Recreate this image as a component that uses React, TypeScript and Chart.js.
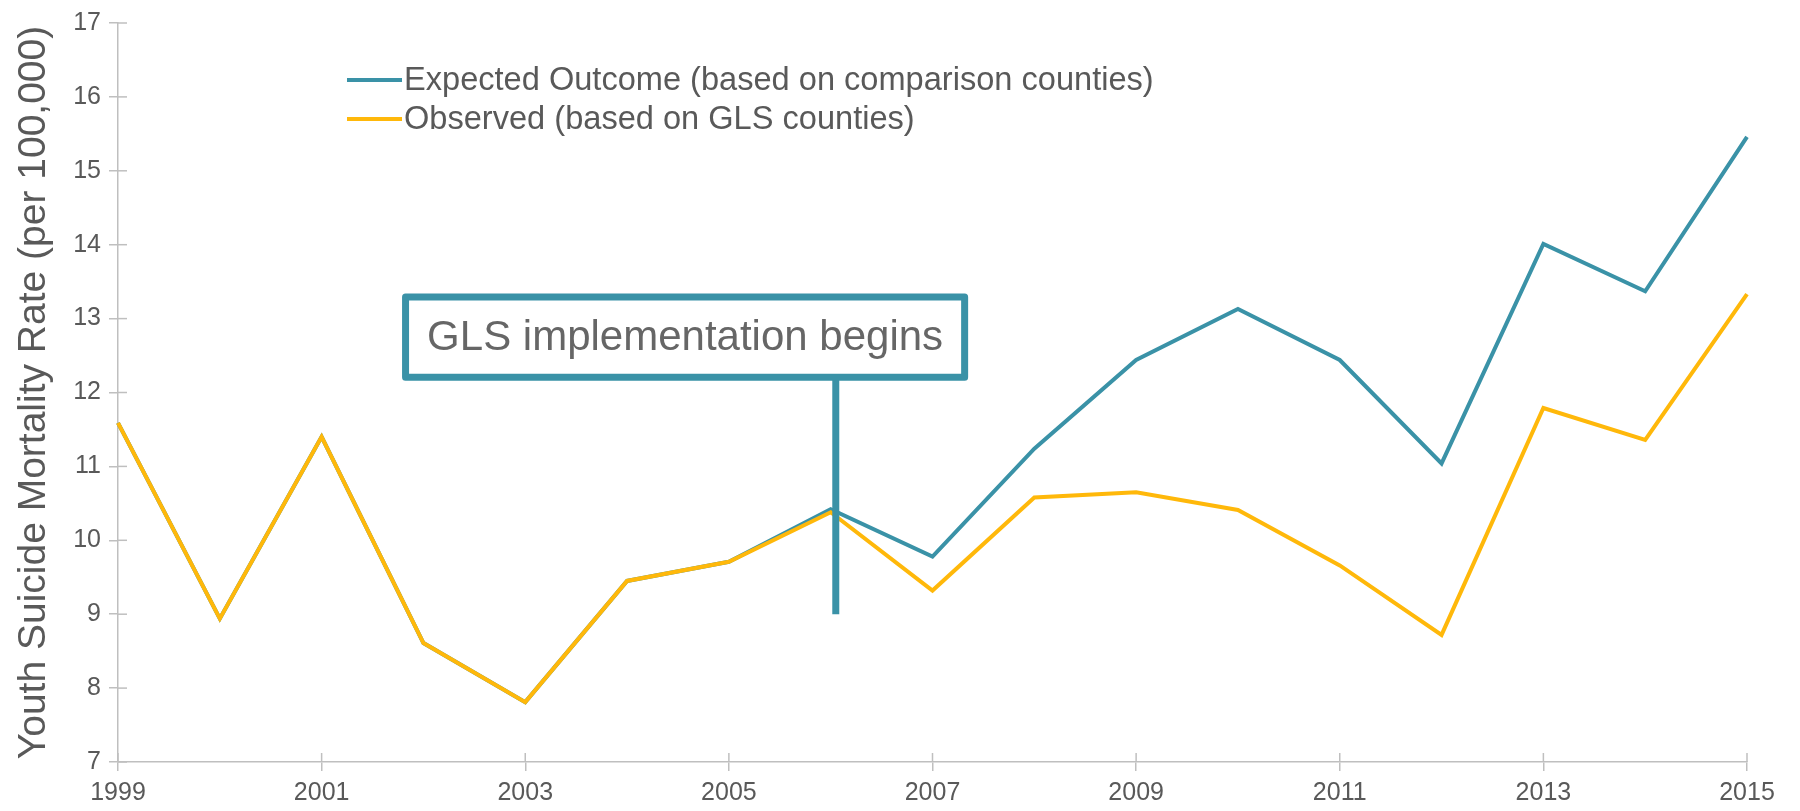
import React, { useEffect, useRef } from "react";
import { Chart, registerables } from "chart.js";

Chart.register(...registerables);

const YEARS = ["1999", "2000", "2001", "2002", "2003", "2004", "2005", "2006", "2007", "2008", "2009", "2010", "2011", "2012", "2013", "2014", "2015"];
const EXPECTED = [11.59, 8.94, 11.4, 8.61, 7.81, 9.45, 9.71, 10.42, 9.78, 11.24, 12.44, 13.13, 12.44, 11.04, 14.01, 13.37, 15.46];
const OBSERVED = [11.59, 8.94, 11.4, 8.61, 7.81, 9.45, 9.71, 10.38, 9.32, 10.58, 10.65, 10.41, 9.66, 8.72, 11.79, 11.36, 13.33];
const SERIES_LABELS = ["Expected Outcome (based on comparison counties)", "Observed (based on GLS counties)"];
const SERIES_COLORS = ["#3A92A7", "#FFB80A"];
const Y_MIN = 7;
const Y_MAX = 17;
const Y_TITLE = "Youth Suicide Mortality Rate (per 100,000)";
const ANNOTATION_TEXT = "GLS implementation begins";
const MARKER_INDEX = 7.05;
const MARKER_BOTTOM = 9;
const BOX_X = [2.79, 8.35];
const BOX_Y = [12.16, 13.34];

const FONT = "'Liberation Sans', Arial, sans-serif";
const TEXT_COLOR = "#595959";
const AXIS_COLOR = "#BFBFBF";
const TEAL = "#3A92A7";

const decorPlugin = {
  id: "decor",
  beforeDatasetsDraw(chart: any) {
    const { ctx, scales } = chart;
    const x = scales.x;
    const y = scales.y;
    ctx.save();
    ctx.strokeStyle = AXIS_COLOR;
    ctx.lineWidth = 1.5;
    for (let v = Y_MIN; v <= Y_MAX; v++) {
      const py = y.getPixelForValue(v);
      ctx.beginPath();
      ctx.moveTo(x.left, py);
      ctx.lineTo(x.left + 9, py);
      ctx.stroke();
    }
    for (let i = 0; i < YEARS.length; i += 2) {
      const px = x.getPixelForValue(i);
      ctx.beginPath();
      ctx.moveTo(px, y.bottom);
      ctx.lineTo(px, y.bottom - 9);
      ctx.stroke();
    }
    ctx.restore();
  },
  afterDatasetsDraw(chart: any) {
    const { ctx, scales } = chart;
    const x = scales.x;
    const y = scales.y;
    ctx.save();
    const bw = 7;
    const left = x.getPixelForValue(BOX_X[0]) + bw / 2;
    const right = x.getPixelForValue(BOX_X[1]) - bw / 2;
    const top = y.getPixelForValue(BOX_Y[1]) + bw / 2;
    const bottom = y.getPixelForValue(BOX_Y[0]) - bw / 2;
    const mx = x.getPixelForValue(MARKER_INDEX);
    ctx.strokeStyle = TEAL;
    ctx.lineWidth = 7;
    ctx.lineCap = "butt";
    ctx.beginPath();
    ctx.moveTo(mx, bottom);
    ctx.lineTo(mx, y.getPixelForValue(MARKER_BOTTOM));
    ctx.stroke();
    ctx.fillStyle = "#FFFFFF";
    ctx.lineJoin = "round";
    ctx.beginPath();
    ctx.rect(left, top, right - left, bottom - top);
    ctx.fill();
    ctx.stroke();
    ctx.fillStyle = "#666666";
    ctx.font = `42px ${FONT}`;
    ctx.textAlign = "center";
    ctx.textBaseline = "middle";
    ctx.fillText(ANNOTATION_TEXT, (left + right) / 2, (top + bottom) / 2 + 1);
    ctx.restore();
  },
  afterDraw(chart: any) {
    const { ctx } = chart;
    ctx.save();
    ctx.font = `100px ${FONT}`;
    const w = ctx.measureText(SERIES_LABELS[0]).width;
    const size = Math.min(34, (100 * 750) / w);
    ctx.font = `${size}px ${FONT}`;
    ctx.textAlign = "left";
    ctx.textBaseline = "middle";
    const rows = [80, 119];
    chart.data.datasets.forEach((ds: any, i: number) => {
      const yy = rows[i];
      ctx.strokeStyle = ds.borderColor;
      ctx.lineWidth = 4;
      ctx.beginPath();
      ctx.moveTo(347, yy);
      ctx.lineTo(402, yy);
      ctx.stroke();
      ctx.fillStyle = TEXT_COLOR;
      ctx.fillText(ds.label, 404, yy + 1);
    });
    ctx.restore();
  },
};

export default function App() {
  const ref = useRef<HTMLCanvasElement | null>(null);
  useEffect(() => {
    document.body.style.margin = "0";
    const canvas = ref.current;
    if (!canvas) return;
    const chart = new Chart(canvas, {
      type: "line",
      data: {
        labels: YEARS,
        datasets: [
          {
            label: SERIES_LABELS[0],
            data: EXPECTED,
            borderColor: SERIES_COLORS[0],
            backgroundColor: SERIES_COLORS[0],
            borderWidth: 4,
            pointRadius: 0,
            tension: 0,
            order: 1,
          },
          {
            label: SERIES_LABELS[1],
            data: OBSERVED,
            borderColor: SERIES_COLORS[1],
            backgroundColor: SERIES_COLORS[1],
            borderWidth: 4,
            pointRadius: 0,
            tension: 0,
            order: 0,
          },
        ],
      },
      options: {
        responsive: false,
        animation: false,
        devicePixelRatio: 1,
        layout: { padding: { left: 0, right: 53, top: 22, bottom: 0 } },
        plugins: {
          legend: { display: false },
          tooltip: { enabled: false },
          title: { display: false },
        },
        scales: {
          x: {
            type: "category",
            offset: false,
            afterFit: (s: any) => {
              s.height = 49;
            },
            border: { display: true, color: AXIS_COLOR, width: 1.5 },
            grid: {
              display: true,
              drawOnChartArea: false,
              drawTicks: true,
              tickLength: 9,
              lineWidth: 1.5,
              color: (c: any) => (c.index % 2 === 0 ? AXIS_COLOR : "rgba(0,0,0,0)"),
            },
            ticks: {
              autoSkip: false,
              maxRotation: 0,
              padding: 7,
              color: TEXT_COLOR,
              font: { family: FONT, size: 25 },
              callback: (_v: any, i: number) => (i % 2 === 0 ? YEARS[i] : ""),
            },
          },
          y: {
            min: Y_MIN,
            max: Y_MAX,
            afterFit: (s: any) => {
              s.width = 118;
            },
            border: { display: true, color: AXIS_COLOR, width: 1.5 },
            grid: {
              display: true,
              drawOnChartArea: false,
              drawTicks: true,
              tickLength: 9,
              lineWidth: 1.5,
              color: AXIS_COLOR,
            },
            ticks: {
              stepSize: 1,
              padding: 8,
              color: TEXT_COLOR,
              font: { family: FONT, size: 25 },
            },
            title: {
              display: true,
              text: Y_TITLE,
              color: TEXT_COLOR,
              font: { family: FONT, size: 39 },
              padding: { top: 11, bottom: 0 },
            },
          },
        },
      },
      plugins: [decorPlugin],
    });
    return () => chart.destroy();
  }, []);
  return (
    <div style={{ width: 1800, height: 811, background: "#FFFFFF" }}>
      <canvas ref={ref} width={1800} height={811} />
    </div>
  );
}
